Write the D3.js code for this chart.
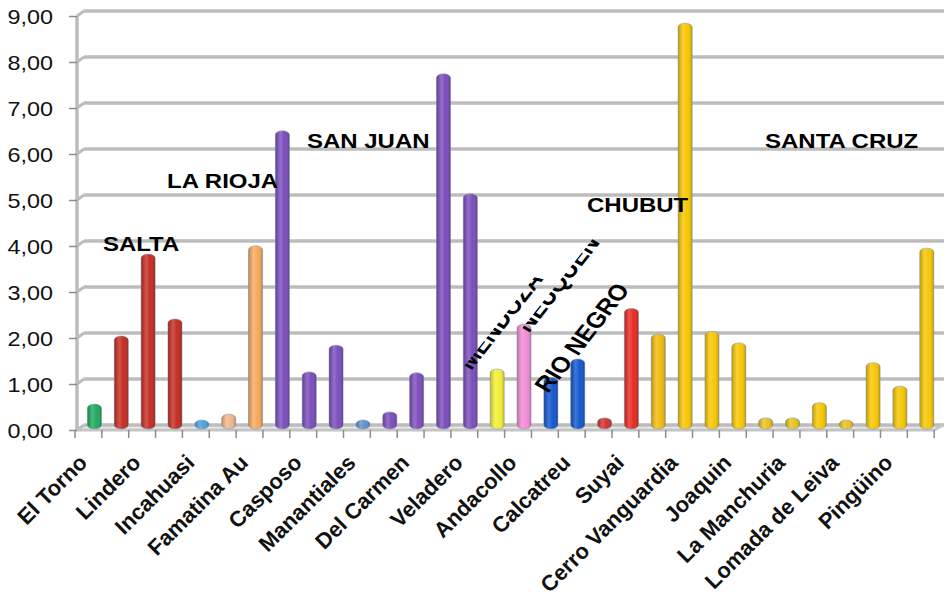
<!DOCTYPE html>
<html>
<head>
<meta charset="utf-8">
<script src="https://cdn.jsdelivr.net/npm/d3@7"></script>
<style>
  body { margin: 0; background: #fff; }
  svg { display: block; font-family: "Liberation Sans", Arial, sans-serif; }
</style>
</head>
<body>
<svg id="chart"></svg>
<script>
// values per bar (32 bars, only every other one carries a tick label)
const values = [0.52, 2.0, 3.78, 2.37, 0.1, 0.3, 3.96, 6.46, 1.22, 1.8, 0.03, 0.35, 1.2, 7.7, 5.09,
                1.28, 2.26, 1.1, 1.5, 0.22, 2.6, 2.04, 8.8, 2.1, 1.85, 0.22, 0.22, 0.55, 0.17, 1.42, 0.91, 3.91];

const barColors = ["#1ea85c", "#c42a1e", "#c42a1e", "#c42a1e", "#4a9fdc", "#f2b58a", "#f6a85c",
                   "#7a4bbb", "#7a4bbb", "#7a4bbb", "#5b8fc8", "#7a4bbb", "#7a4bbb", "#7a4bbb", "#7a4bbb",
                   "#f2f034", "#f28bd6", "#1055cc", "#1055cc", "#d0322a", "#e8281e",
                   "#f0bb0c", "#f7c600", "#f7c600", "#f7c600", "#e8c21a", "#e8c21a", "#f7c600",
                   "#e8c21a", "#f7c600", "#f7c600", "#f7c600"];

const tickLabels = ["El Torno", "Lindero", "Incahuasi", "Famatina Au", "Casposo", "Manantiales",
                    "Del Carmen", "Veladero", "Andacollo", "Calcatreu", "Suyai", "Cerro Vanguardia",
                    "Joaquin", "La Manchuria", "Lomada de Leiva", "Pingüino"];

const yTicks = [0, 1, 2, 3, 4, 5, 6, 7, 8, 9];

// province captions, anchored in data units (bar index, value)
const provinces = [
  {name: "SALTA", idx: 1.04, val: 3.89},
  {name: "LA RIOJA", idx: 3.43, val: 5.26},
  {name: "SAN JUAN", idx: 8.64, val: 6.13},
  {name: "CHUBUT", idx: 19.07, val: 4.74},
  {name: "SANTA CRUZ", idx: 25.7, val: 6.13}
];
const slanted = [
  {name: "MENDOZA", idx: 14.75, val: 1.28, cut: true},
  {name: "NEUQUEN", idx: 16.9, val: 2.1, cut: true},
  {name: "RIO NEGRO", idx: 17.62, val: 0.78, cut: false}
];

const width = 944, height = 605;
const stretch = 1.17;        // the source picture is a bit wider than tall
const depthX = 9, depthY = -5;  // back wall offset

const svg = d3.select("#chart")
    .attr("width", width)
    .attr("height", height);

const x = d3.scaleBand()
    .domain(d3.range(values.length))
    .range([75, 75 + values.length * 26.85])
    .padding(0);

const xi = d3.scaleLinear()
    .domain([0, values.length])
    .range(x.range());

const y = d3.scaleLinear()
    .domain([0, 9])
    .range([430, 16]);

const fmt = d => d3.format(".2f")(d).replace(".", ",");

const defs = svg.append("defs");
const shade = defs.append("linearGradient")
    .attr("id", "shade")
    .attr("x1", 0).attr("x2", 1).attr("y1", 0).attr("y2", 0);
shade.append("stop").attr("offset", 0).attr("stop-color", "#000").attr("stop-opacity", 0.2);
shade.append("stop").attr("offset", 0.35).attr("stop-color", "#fff").attr("stop-opacity", 0.2);
shade.append("stop").attr("offset", 0.65).attr("stop-color", "#fff").attr("stop-opacity", 0.02);
shade.append("stop").attr("offset", 1).attr("stop-color", "#000").attr("stop-opacity", 0.22);

// floor
const x0 = x.range()[0], x1 = x.range()[1];
svg.append("polygon")
    .attr("points", [[x0, y(0)], [x1, y(0)], [x1 + depthX, y(0) + depthY], [x0 + depthX, y(0) + depthY]].join(" "))
    .attr("fill", "#eaeaea");

// grid on the back wall
const grid = svg.append("g");
grid.selectAll("line.h")
    .data(yTicks)
    .join("line")
        .attr("class", "h")
        .attr("x1", x0 + depthX)
        .attr("x2", width)
        .attr("y1", d => y(d) + depthY)
        .attr("y2", d => y(d) + depthY)
        .attr("stroke", "#bcbcbc")
        .attr("stroke-width", 3.5);
grid.selectAll("line.d")
    .data(yTicks)
    .join("line")
        .attr("class", "d")
        .attr("x1", x0 + 2)
        .attr("x2", x0 + depthX)
        .attr("y1", d => y(d))
        .attr("y2", d => y(d) + depthY)
        .attr("stroke", "#bcbcbc")
        .attr("stroke-width", 3);

// left wall edge
svg.append("line")
    .attr("x1", x0 + 2).attr("x2", x0 + 2)
    .attr("y1", y(9)).attr("y2", y(0))
    .attr("stroke", "#bcbcbc")
    .attr("stroke-width", 3.5);

// front floor edge
svg.append("line")
    .attr("x1", x0).attr("x2", x1)
    .attr("y1", y(0)).attr("y2", y(0))
    .attr("stroke", "#c4c4c4")
    .attr("stroke-width", 3);
svg.append("line")
    .attr("x1", x1).attr("x2", x1 + depthX)
    .attr("y1", y(0)).attr("y2", y(0) + depthY)
    .attr("stroke", "#c4c4c4")
    .attr("stroke-width", 3);

// y axis
const yAxis = svg.append("g")
    .attr("transform", `translate(${x0 + 2},0)`)
    .call(d3.axisLeft(y).tickValues(yTicks).tickFormat(fmt).tickSize(8).tickPadding(0));
yAxis.select(".domain").remove();
yAxis.selectAll(".tick line").attr("stroke", "#8c8c8c").attr("stroke-width", 1.5);
yAxis.selectAll(".tick text")
    .attr("x", null)
    .attr("dy", null)
    .attr("text-anchor", "end")
    .attr("transform", `translate(-24,7.5) scale(${stretch},1)`)
    .style("font-size", "20px")
    .attr("fill", "#111");

// x axis ticks sit on band boundaries
const xAxis = svg.append("g")
    .attr("transform", `translate(0,${y(0)})`)
    .call(d3.axisBottom(x).tickValues(d3.range(values.length)).tickFormat("").tickSize(8));
xAxis.select(".domain").remove();
xAxis.selectAll(".tick line")
    .attr("transform", `translate(${-x.bandwidth() / 2},0)`)
    .attr("stroke", "#8c8c8c")
    .attr("stroke-width", 1.5);
xAxis.append("line")
    .attr("x1", x1).attr("x2", x1).attr("y1", 0).attr("y2", 8)
    .attr("stroke", "#8c8c8c").attr("stroke-width", 1.5);

// bars
const barW = 14;
const barOff = 6, barBase = -3;
const bars = svg.append("g").selectAll("g")
    .data(values)
    .join("g");

const barRect = sel => sel
    .attr("x", (d, i) => x(i) + x.bandwidth() / 2 + barOff - barW / 2)
    .attr("y", d => Math.min(y(d) - 2, y(0) + barBase - 7))
    .attr("width", barW)
    .attr("height", d => Math.max(9, y(0) + barBase - y(d) + 4))
    .attr("rx", barW / 2)
    .attr("ry", 4);

bars.append("rect")
    .call(barRect)
    .attr("fill", (d, i) => barColors[i])
    .attr("stroke", "rgba(130,150,175,0.55)")
    .attr("stroke-width", 1);
bars.append("rect")
    .call(barRect)
    .attr("fill", "url(#shade)");

// x tick labels on every other bar
svg.append("g").selectAll("text")
    .data(tickLabels)
    .join("text")
        .attr("text-anchor", "end")
        .attr("transform", (d, k) => `translate(${x(k * 2) + x.bandwidth() / 2},464) rotate(-45)`)
        .style("font-size", "22px")
        .style("font-weight", "bold")
        .attr("fill", "#111")
        .text(d => d);

// province captions
svg.append("g").selectAll("text")
    .data(provinces)
    .join("text")
        .attr("transform", d => `translate(${xi(d.idx)},${y(d.val)}) scale(${stretch},1)`)
        .style("font-size", "20.5px")
        .style("font-weight", "bold")
        .attr("fill", "#000")
        .text(d => d.name);

defs.append("clipPath")
    .attr("id", "cut")
    .append("rect")
        .attr("x", -5).attr("y", -7.5).attr("width", 220).attr("height", 15);

svg.append("g").selectAll("text")
    .data(slanted)
    .join("text")
        .attr("transform", d => `translate(${xi(d.idx)},${y(d.val)}) scale(${stretch},1) rotate(-56)`)
        .attr("clip-path", d => d.cut ? "url(#cut)" : null)
        .style("font-size", "22px")
        .style("font-weight", "bold")
        .attr("fill", "#000")
        .text(d => d.name);
</script>
</body>
</html>
